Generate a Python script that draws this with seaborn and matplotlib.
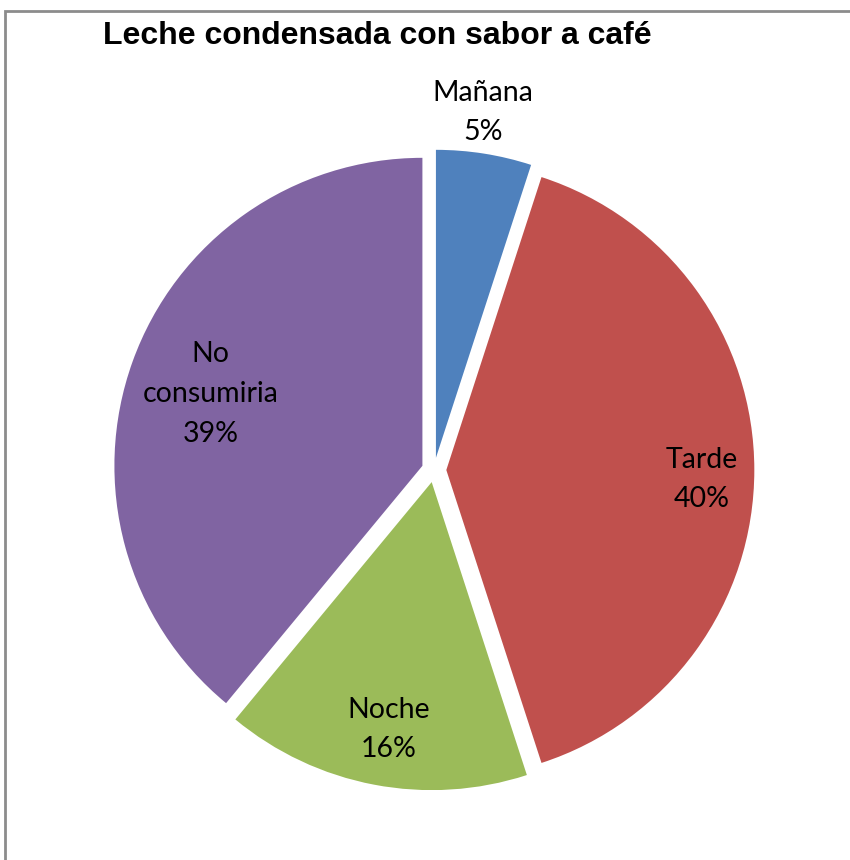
import numpy as np
import matplotlib
matplotlib.use("Agg")
import matplotlib.pyplot as plt
from matplotlib.patches import Rectangle
import seaborn as sns

sns.set_theme(style="white")
plt.rcParams['font.family'] = ['Lato', 'DejaVu Sans']

# Data
categories = ["Mañana", "Tarde", "Noche", "No\nconsumiria"]
shares = [5, 40, 16, 39]
title = "Leche condensada con sabor a café"

# Styling
colors = ["#4F81BD", "#C0504D", "#9BBB59", "#8064A2"]
# label placement: radial distance and angular nudge (degrees) per slice
label_dist = [1.172, 0.870, 0.855, 0.767]
label_nudge = [1.2, -2.0, 0.8, 1.0]

W, H = 850, 860
cx, cy, R = 434, 470, 308  # pie centre and radius in pixels

fig = plt.figure(figsize=(W / 100, H / 100), dpi=100)
ax = fig.add_axes([0, 0, 1, 1])

wedges, _ = ax.pie(
    shares,
    colors=colors,
    startangle=90,
    counterclock=False,
    explode=[0.04] * len(shares),
    radius=1,
    wedgeprops=dict(linewidth=0),
)
ax.set_xlim(-cx / R, (W - cx) / R)
ax.set_ylim(-(H - cy) / R, cy / R)
ax.set_aspect("equal")
ax.axis("off")

# Slice labels with percentages
total = sum(shares)
for w, cat, val, d, nd in zip(wedges, categories, shares, label_dist, label_nudge):
    ang = np.deg2rad((w.theta1 + w.theta2) / 2 + nd)
    pct = round(100 * val / total)
    ax.text(d * np.cos(ang), d * np.sin(ang), f"{cat}\n{pct}%",
            ha="center", va="center", fontsize=20.5, color="black",
            linespacing=1.65)

fig.text(377 / W, 1 - 44 / H, title, ha="center", va="baseline",
         fontsize=23, fontweight="bold", family=["Liberation Sans", "DejaVu Sans"],
         color="black")

# Chart area frame
fig.patches.append(Rectangle((5 / W, -0.1), 1.2, 1 - 11 / H + 0.1,
                             transform=fig.transFigure, fill=False,
                             edgecolor="#8C8C8C", linewidth=2, zorder=0))

fig.savefig("out.png", dpi=100)
